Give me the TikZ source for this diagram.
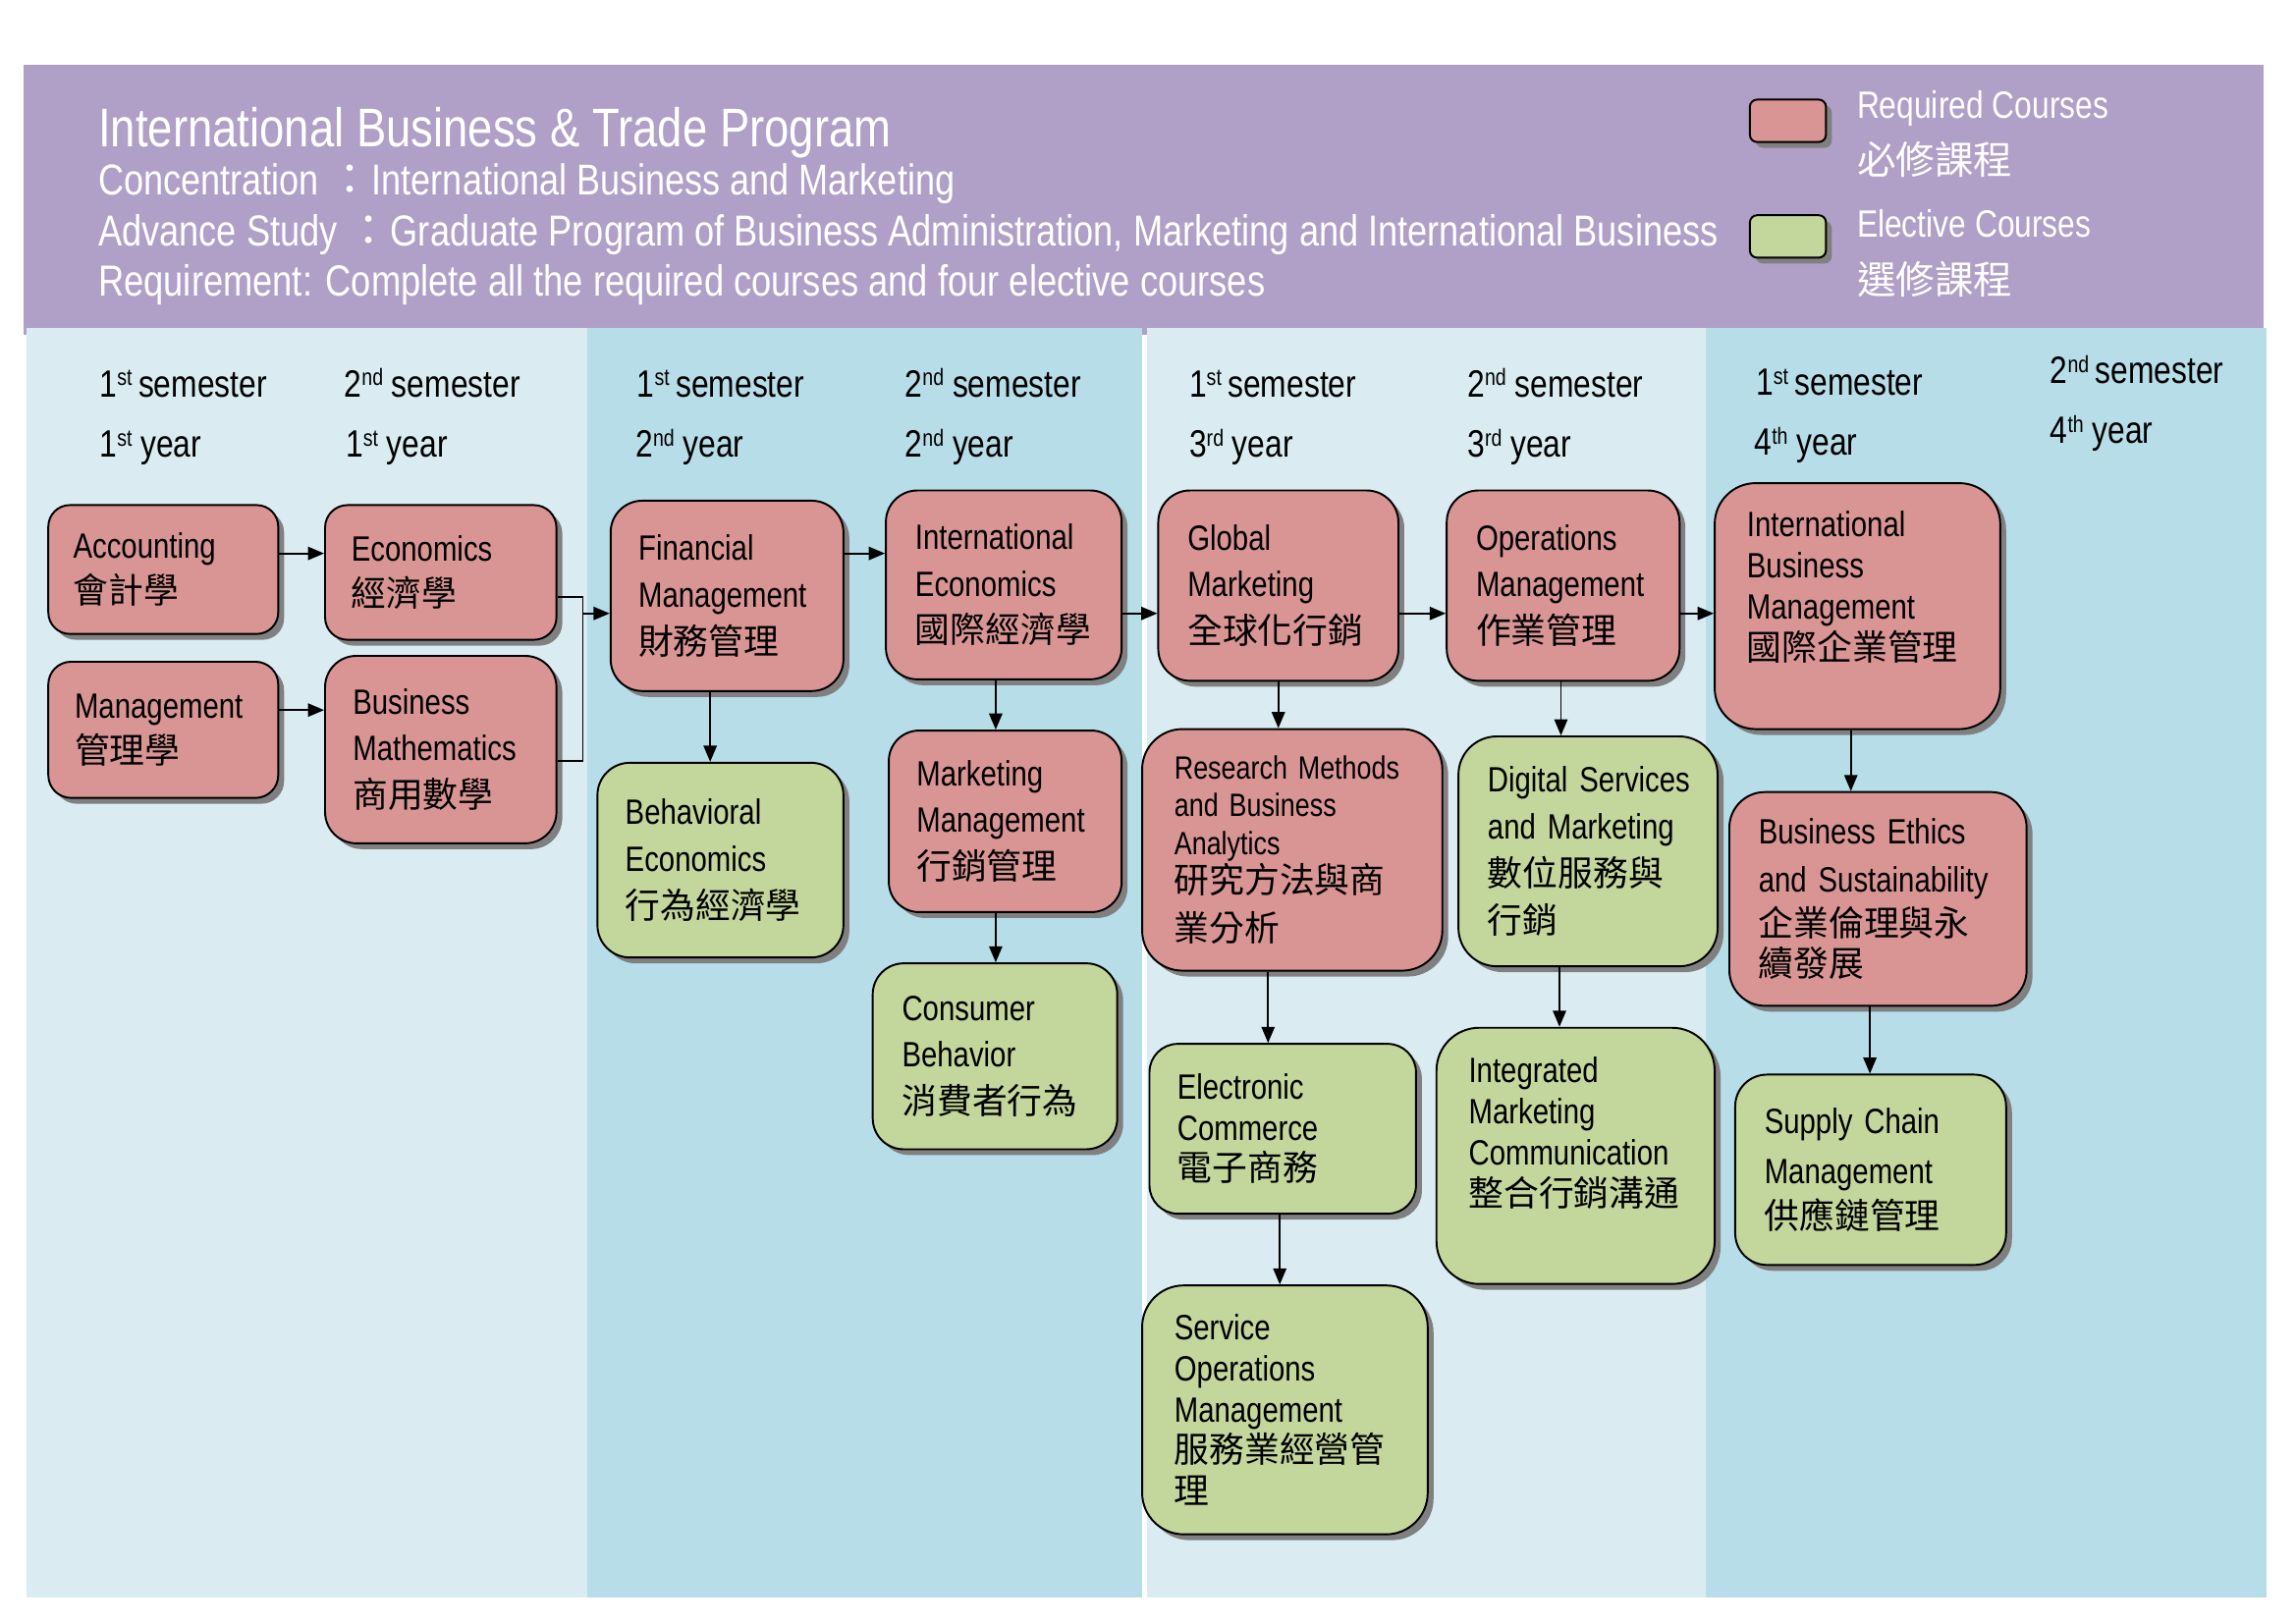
\documentclass[tikz,border=0pt]{standalone}
\usepackage{fontspec}
\setmainfont{Liberation Sans}[FakeStretch=0.82]
\newfontfamily\cjk{Noto Sans CJK TC}
\usetikzlibrary{arrows.meta,shadows,calc}
\definecolor{hdr}{RGB}{176,159,198}
\definecolor{bandA}{RGB}{218,236,242}
\definecolor{bandB}{RGB}{183,221,232}
\definecolor{reqc}{RGB}{217,149,148}
\definecolor{elec}{RGB}{195,214,155}
\definecolor{shd}{RGB}{128,128,128}
\hyphenpenalty=10000
\exhyphenpenalty=10000
\newcommand\zh[1]{{\cjk #1}}
\newcommand\sups[1]{\raisebox{7.5pt}{\fontsize{16}{16}\selectfont #1}}
\newcommand\course[8]{%
  \pgfmathsetmacro\cwd{#5-#3}%
  \pgfmathsetmacro\cht{#6-#4}%
  \pgfmathsetmacro\cxx{(#3+#5)/2}%
  \pgfmathsetmacro\cyy{(#4+#6)/2}%
  \pgfmathsetmacro\crad{min(\cwd,\cht)/6}%
  \pgfmathsetmacro\ctw{\cwd-2*#7}%
  \node[#2, minimum width=\cwd pt, minimum height=\cht pt, text width=\ctw pt, inner xsep=#7pt, rounded corners=\crad pt] (#1) at (\cxx,\cyy) {#8};%
}
\tikzset{
  course/.style={draw=black, line width=1.3pt, align=left, inner ysep=0pt, text=black,
     drop shadow={shadow xshift=4pt, shadow yshift=-4pt, fill=shd, opacity=1}},
  req/.style={course, fill=reqc},
  ele/.style={course, fill=elec},
  sp/.style={font=\fontsize{24}{#1}\selectfont},
  legbox/.style={draw=black, line width=1.3pt, minimum width=52pt, minimum height=29pt, inner sep=0pt, rounded corners=5pt,
     drop shadow={shadow xshift=4pt, shadow yshift=-4pt, fill=shd, opacity=1}},
  arr/.style={line width=1.2pt, -{Triangle[length=11pt,width=9pt]}},
  lnk/.style={line width=1.2pt},
  hdrtxt/.style={anchor=base west, text=white, inner sep=0pt},
  semtxt/.style={anchor=base west, text=black, inner sep=0pt, font=\fontsize{26}{30}\selectfont},
}
\begin{document}
\begin{tikzpicture}[x=1pt,y=-1pt]
\fill[white] (0,0) rectangle (1568,1109);
\useasboundingbox (0,0) rectangle (1568,1109);
% header and bands
\fill[hdr] (16,44) rectangle (1546,229);
\fill[bandA] (18,224) rectangle (401,1091);
\fill[bandB] (401,224) rectangle (780,1091);
\fill[bandA] (783,224) rectangle (1165,1091);
\fill[bandB] (1165,224) rectangle (1548,1091);
% header text
\node[hdrtxt, font=\fontsize{37.2}{40}\selectfont] (title) at (67,100) {International Business \& Trade Program};
\node[hdrtxt, font=\fontsize{29.5}{32}\selectfont] (conc) at (67,133) {Concentration \zh{：}International Business and Marketing};
\node[hdrtxt, font=\fontsize{29.6}{32}\selectfont] (adv) at (67,168) {Advance Study \zh{：}Graduate Program of Business Administration, Marketing and International Business};
\node[hdrtxt, font=\fontsize{29.7}{32}\selectfont] (reqm) at (67,202) {Requirement: Complete all the required courses and four elective courses};
% legend
\node[legbox, fill=reqc] (lreq) at (1221,82.5) {};
\node[legbox, fill=elec] (lele) at (1221,161.5) {};
\node[hdrtxt, font=\fontsize{26}{30}\selectfont] (lreqen) at (1268,81) {Required Courses};
\node[hdrtxt, font=\fontsize{26.5}{30}\selectfont] (lreqzh) at (1268,119) {\zh{必修課程}};
\node[hdrtxt, font=\fontsize{26}{30}\selectfont] (leleen) at (1268,162) {Elective Courses};
\node[hdrtxt, font=\fontsize{26.5}{30}\selectfont] (lelezh) at (1268,201) {\zh{選修課程}};
% semester labels
\node[semtxt] (s1) at (68,271) {1\sups{st}\,semester};
\node[semtxt] (s2) at (235,271) {2\sups{nd} semester};
\node[semtxt] (s3) at (435,271) {1\sups{st}\,semester};
\node[semtxt] (s4) at (618,271) {2\sups{nd} semester};
\node[semtxt] (s5) at (812,271) {1\sups{st}\,semester};
\node[semtxt] (s6) at (1002,271) {2\sups{nd} semester};
\node[semtxt] (s7) at (1199,270) {1\sups{st}\,semester};
\node[semtxt] (s8) at (1400,262) {2\sups{nd}\,semester};
\node[semtxt] (y1) at (68,312) {1\sups{st} year};
\node[semtxt] (y2) at (236,312) {1\sups{st} year};
\node[semtxt] (y3) at (434,312) {2\sups{nd} year};
\node[semtxt] (y4) at (618,312) {2\sups{nd} year};
\node[semtxt] (y5) at (812,312) {3\sups{rd} year};
\node[semtxt] (y6) at (1002,312) {3\sups{rd} year};
\node[semtxt] (y7) at (1198,311) {4\sups{th} year};
\node[semtxt] (y8) at (1400,303) {4\sups{th} year};
% courses
\course{acc}{req, sp=31}{33}{345}{190}{433}{17}{Accounting\\\zh{會計學}}
\course{eco}{req, sp=31}{222}{345}{380}{437}{18}{Economics\\\zh{經濟學}}
\course{mgt}{req, sp=31}{33}{452}{190}{545}{18}{Management\\\zh{管理學}}
\course{bmath}{req, sp=32}{222}{448}{380}{576}{19}{Business\\Mathematics\\\zh{商用數學}}
\course{fin}{req, sp=32}{417}{342}{576}{472}{19}{Financial\\Management\\\zh{財務管理}}
\course{iec}{req, sp=32}{605}{335}{766}{464}{20}{International\\Economics\\\zh{國際經濟學}}
\course{beh}{ele, sp=32}{408}{521}{576}{654}{19}{Behavioral\\Economics\\\zh{行為經濟學}}
\course{mkt}{req, sp=32}{607}{499}{766}{623}{19}{Marketing\\Management\\\zh{行銷管理}}
\course{con}{ele, sp=32}{596}{658}{763}{785}{20}{Consumer\\Behavior\\\zh{消費者行為}}
\course{glo}{req, sp=32}{791}{335}{955}{465}{20}{Global\\Marketing\\\zh{全球化行銷}}
\course{ops}{req, sp=32}{988}{335}{1147}{465}{20}{Operations\\Management\\\zh{作業管理}}
\course{res}{req, font=\fontsize{22}{26}\selectfont}{780}{498}{985}{663}{22}{Research~Methods\\and~Business\\Analytics\\{\cjk\fontsize{24}{26}\selectfont 研究方法與商}\\[7pt]{\cjk\fontsize{24}{26}\selectfont 業分析}}
\course{dig}{ele, sp=32}{996}{503}{1173}{660}{20}{\mbox{Digital Services}\\\mbox{and Marketing}\\\zh{數位服務與}\\\zh{行銷}}
\course{ibm}{req, sp=28}{1171}{330}{1366}{498}{22}{International\\Business\\Management\\\zh{國際企業管理}\\\mbox{}}
\course{eth}{req, sp=30}{1181}{541}{1384}{687}{20}{\mbox{Business Ethics}\\[3pt]\mbox{and Sustainability}\\\zh{企業倫理與永}\\[-2pt]\zh{續發展}}
\course{ecom}{ele, sp=28}{785}{713}{967}{829}{19}{Electronic\\Commerce\\\zh{電子商務}}
\course{imc}{ele, sp=28}{981}{702}{1171}{877}{22}{Integrated\\Marketing\\Communication\\\zh{整合行銷溝通}\\[5pt]\mbox{}}
\course{scm}{ele, sp=31}{1185}{734}{1370}{864}{20}{\mbox{Supply Chain}\\[3pt]Management\\\zh{供應鏈管理}}
\course{som}{ele, sp=28}{780}{878}{975}{1048}{22}{Service\\Operations\\Management\\\zh{服務業經營管}\\\zh{理}}
% helper coordinates
\coordinate (r378) at (0,378);
\coordinate (r485) at (0,485);
\coordinate (r408) at (0,408);
\coordinate (r520) at (0,520);
\coordinate (r419) at (0,419);
\coordinate (jx) at (398,0);
\coordinate (c485) at (485,0);
\coordinate (c680) at (680,0);
\coordinate (c873) at (873,0);
\coordinate (c1066) at (1066,0);
\coordinate (c866) at (866,0);
\coordinate (c1065) at (1065,0);
\coordinate (c874) at (874,0);
\coordinate (c1264) at (1264,0);
\coordinate (c1277) at (1277,0);
% connectors
\draw[arr] (acc.east |- r378) -- (eco.west |- r378);
\draw[arr] (mgt.east |- r485) -- (bmath.west |- r485);
\draw[lnk] (eco.east |- r408) -| (jx |- r520) -- (bmath.east |- r520);
\draw[arr] (jx |- r419) -- (fin.west |- r419);
\draw[arr] (fin.east |- r378) -- (iec.west |- r378);
\draw[arr] (fin.south -| c485) -- (beh.north -| c485);
\draw[arr] (iec.east |- r419) -- (glo.west |- r419);
\draw[arr] (iec.south -| c680) -- (mkt.north -| c680);
\draw[arr] (mkt.south -| c680) -- (con.north -| c680);
\draw[arr] (glo.east |- r419) -- (ops.west |- r419);
\draw[arr] (glo.south -| c873) -- (res.north -| c873);
\draw[arr] (ops.east |- r419) -- (ibm.west |- r419);
\draw[arr] (ops.south -| c1066) -- (dig.north -| c1066);
\draw[arr] (res.south -| c866) -- (ecom.north -| c866);
\draw[arr] (dig.south -| c1065) -- (imc.north -| c1065);
\draw[arr] (ecom.south -| c874) -- (som.north -| c874);
\draw[arr] (ibm.south -| c1264) -- (eth.north -| c1264);
\draw[arr] (eth.south -| c1277) -- (scm.north -| c1277);
\end{tikzpicture}
\end{document}
